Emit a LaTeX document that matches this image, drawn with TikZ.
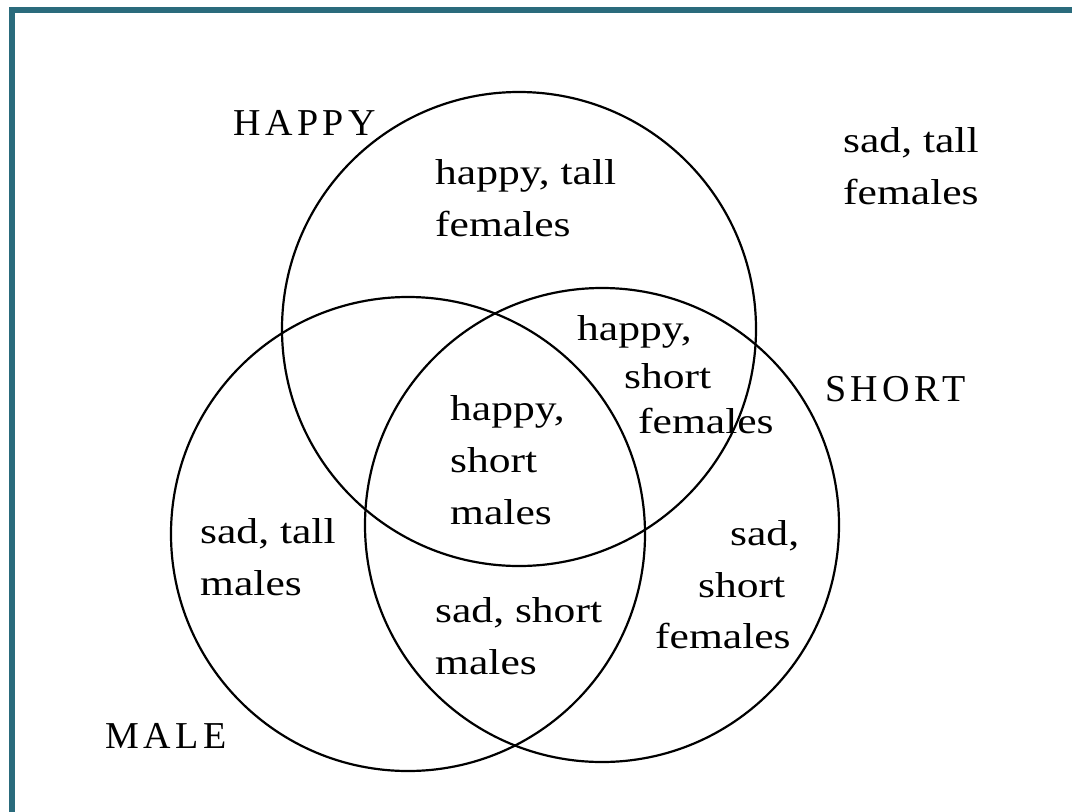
\documentclass[tikz,border=0pt]{standalone}
\usepackage{fontspec}
\setmainfont{Liberation Serif}
\newfontfamily\regionfont[FakeStretch=1.21]{Liberation Serif}
\newfontfamily\setfont[LetterSpace=12]{Liberation Serif}
\usetikzlibrary{positioning}
\definecolor{frameteal}{HTML}{2A6B7C}

\begin{document}
\begin{tikzpicture}[
  x=1pt, y=-1pt,
  setcircle/.style={circle, draw, line width=2.2pt, minimum size=474pt, inner sep=0pt},
  region/.style={anchor=base west, inner sep=0pt, font=\regionfont\fontsize{36}{52}\selectfont},
  setname/.style={anchor=base west, inner sep=0pt, font=\setfont\fontsize{38}{52}\selectfont}
]
\useasboundingbox (0,0) rectangle (1072,812);

%--------------------------------------
% Frame
%--------------------------------------
\draw[frameteal, line width=6pt] (12,812) -- (12,10) -- (1072,10);

%--------------------------------------
% Sets
%--------------------------------------
\node[setcircle] (happy) at (519,329) {};
\node[setcircle] (male) at (408,534) {};
\node[setcircle] (short) at (602,525) {};

\node[setname] (happyname) at (233,135) {HAPPY};
\node[setname] (shortname) at (825,401) {SHORT};
\node[setname] (malename) at (105,748) {MALE};

%--------------------------------------
% Regions
%--------------------------------------
\node[region] (htf1) at (435,184) {happy, tall};
\node[region] (htf2) at (435,236) {females};

\node[region] (stf1) at (843,152) {sad, tall};
\node[region] (stf2) at (843,204) {females};

\node[region] (hsf1) at (577,340) {happy,};
\node[region] (hsf2) at (624,388) {short};
\node[region] (hsf3) at (638,433) {females};

\node[region] (hsm1) at (450,420) {happy,};
\node[region] (hsm2) at (450,472) {short};
\node[region] (hsm3) at (450,524) {males};

\node[region] (stm1) at (200,543) {sad, tall};
\node[region] (stm2) at (200,595) {males};

\node[region] (ssf1) at (730,545) {sad,};
\node[region] (ssf2) at (698,597) {short};
\node[region] (ssf3) at (655,648) {females};

\node[region] (ssm1) at (435,622) {sad, short};
\node[region] (ssm2) at (435,674) {males};

\end{tikzpicture}
\end{document}
